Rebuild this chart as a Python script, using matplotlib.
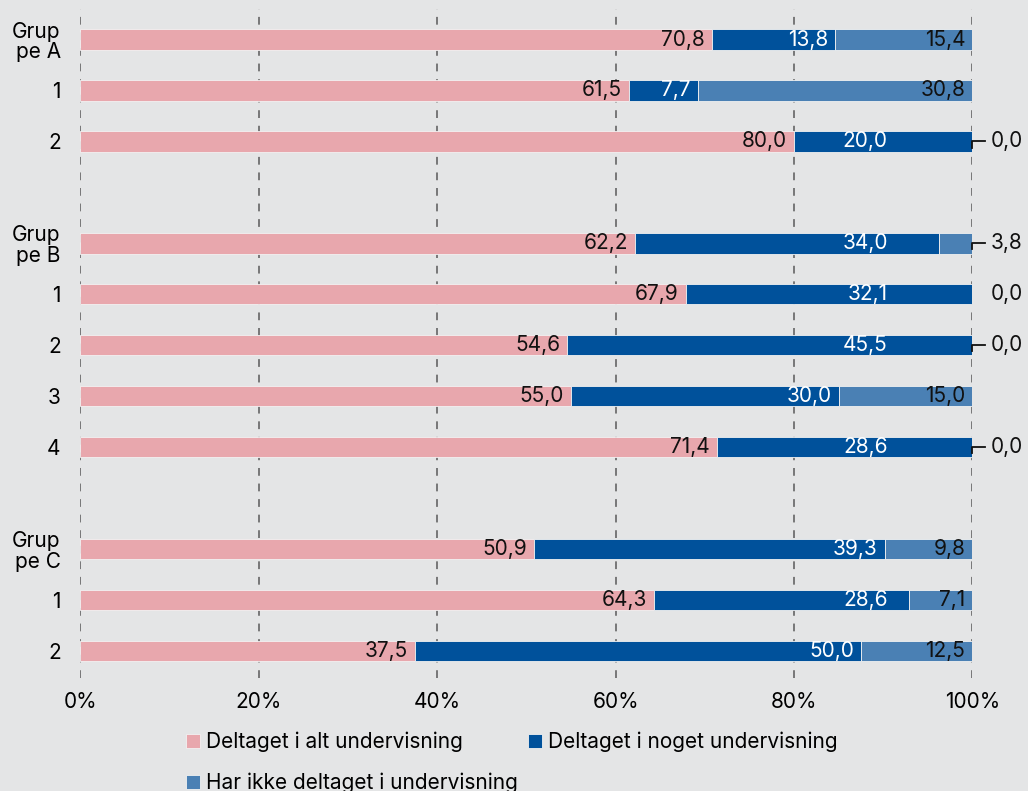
import numpy as np
import matplotlib
matplotlib.use("Agg")
import matplotlib.pyplot as plt

plt.rcParams["font.family"] = ["Inter", "DejaVu Sans"]

# rows top -> bottom, empty strings are spacer rows
rows = ["Grup\npe A", "1", "2", "", "Grup\npe B", "1", "2", "3", "4", "", "Grup\npe C", "1", "2"]
alt = [70.8, 61.5, 80.0, None, 62.2, 67.9, 54.6, 55.0, 71.4, None, 50.9, 64.3, 37.5]
noget = [13.8, 7.7, 20.0, None, 34.0, 32.1, 45.5, 30.0, 28.6, None, 39.3, 28.6, 50.0]
ikke = [15.4, 30.8, 0.0, None, 3.8, 0.0, 0.0, 15.0, 0.0, None, 9.8, 7.1, 12.5]
series_names = ["Deltaget i alt undervisning", "Deltaget i noget undervisning",
                "Har ikke deltaget i undervisning"]
colors = ["#e8a7ad", "#00519b", "#4a80b4"]
bg = "#e4e5e6"
FS = 15

fig = plt.figure(figsize=(10.28, 7.91), dpi=100, facecolor=bg)
ax = fig.add_axes([0.078, 0.143, 0.868, 0.845], facecolor=bg)

y = np.arange(len(rows))
for xv in np.arange(0, 1.01, 0.2):
    ax.axvline(xv, color="#777777", lw=1.4, ls=(0, (4, 4)), zorder=0)

def fmt(v):
    return f"{v:.1f}".replace(".", ",")

for i in y:
    if alt[i] is None:
        continue
    vals = [alt[i] / 100, noget[i] / 100, ikke[i] / 100]
    left = 0.0
    for k, v in enumerate(vals):
        if v > 0:
            ax.barh(i, v, left=left, height=0.4, color=colors[k],
                    edgecolor="#f2f2f2", linewidth=0.6, zorder=2,
                    label=series_names[k] if i == 0 else None)
        end = left + v
        if k == 0:
            ax.text(end - 0.008, i, fmt(alt[i]), ha="right", va="center",
                    fontsize=FS, color="#111111", zorder=3)
        elif k == 1:
            ax.text(min(end - 0.008, 0.905), i, fmt(noget[i]), ha="right", va="center",
                    fontsize=FS, color="white", zorder=3)
        else:
            if v >= 0.05:
                ax.text(end - 0.008, i, fmt(ikke[i]), ha="right", va="center",
                        fontsize=FS, color="#111111", zorder=3)
            else:
                # small values go outside with a leader line
                if i != 5:
                    ax.plot([1.0, 1.0, 1.014], [i + 0.12, i, i], color="#111111",
                            lw=1.3, clip_on=False, zorder=3)
                ax.text(1.02, i, fmt(ikke[i]), ha="left", va="center",
                        fontsize=FS, color="#111111", clip_on=False)
        left = end

ax.set_ylim(len(rows) - 1 + 0.53, -0.59)
ax.set_xlim(0, 1)
ax.set_yticks(y)
ax.set_yticklabels(rows, fontsize=FS, linespacing=1.05)
ax.set_xticks(np.arange(0, 1.01, 0.2))
ax.set_xticklabels([f"{int(p)}%" for p in np.arange(0, 101, 20)], fontsize=FS)
ax.tick_params(length=0, pad=10)
ax.tick_params(axis="y", pad=14)
for s in ax.spines.values():
    s.set_visible(False)

handles, labels = ax.get_legend_handles_labels()
order = [0, 2, 1]  # legend fills column-wise; this gives row-wise reading order
leg = fig.legend([handles[j] for j in order], [labels[j] for j in order],
                 loc="upper left", bbox_to_anchor=(0.163, 0.099),
                 ncol=2, frameon=False, fontsize=FS, handlelength=0.65,
                 handleheight=0.65, handletextpad=0.3, columnspacing=0.5,
                 labelspacing=1.0)

fig.savefig("out.png", dpi=100, facecolor=bg)
